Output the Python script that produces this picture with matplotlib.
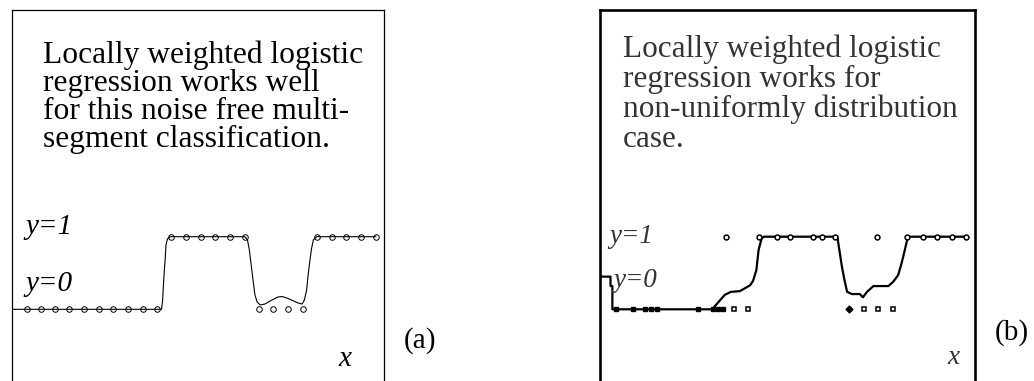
import matplotlib
matplotlib.use("Agg")
import matplotlib.pyplot as plt

plt.rcParams['font.family'] = ['Liberation Serif', 'DejaVu Serif']

W, H = 1034, 381

# (a) noise free multi-segment data, x scaled to [0, 1] across the box
a_x0 = [0.040, 0.077, 0.116, 0.154, 0.194, 0.233, 0.272, 0.312, 0.351, 0.391,
        0.663, 0.702, 0.742, 0.781]
a_x1 = [0.428, 0.468, 0.507, 0.546, 0.586, 0.626,
        0.821, 0.860, 0.899, 0.939, 0.978]
# fitted locally weighted logistic curve
a_fit_x = [0.0, 0.402, 0.405, 0.407, 0.409, 0.412, 0.414, 0.418, 0.425, 0.626,
           0.633, 0.638, 0.642, 0.648, 0.653, 0.659, 0.667, 0.680, 0.696, 0.715,
           0.726, 0.739, 0.755, 0.769, 0.780, 0.786, 0.792, 0.796, 0.801, 0.805,
           0.810, 0.819, 0.978]
a_fit_y = [0.0, 0.0, 0.13, 0.33, 0.50, 0.71, 0.89, 0.97, 1.0, 1.0,
           0.955, 0.82, 0.65, 0.40, 0.20, 0.10, 0.06, 0.073, 0.12, 0.17,
           0.176, 0.155, 0.12, 0.087, 0.073, 0.128, 0.266, 0.47, 0.68, 0.83,
           0.955, 1.0, 1.0]

# (b) non-uniformly distributed data
b_x0_filled = [0.043, 0.087, 0.121, 0.136, 0.151, 0.261, 0.301, 0.314, 0.329]
b_x0_open = [0.358, 0.394, 0.704, 0.742, 0.782]
b_x0_diamond = [0.665]
b_x1 = [0.336, 0.425, 0.471, 0.507, 0.569, 0.591, 0.627, 0.738,
        0.819, 0.862, 0.899, 0.939, 0.977]
b_fit_x = [0.0, 0.028, 0.028, 0.033, 0.033, 0.299, 0.333, 0.349, 0.373, 0.400,
           0.408, 0.417, 0.423, 0.431, 0.437, 0.633, 0.637, 0.645, 0.652, 0.659,
           0.672, 0.693, 0.701, 0.712, 0.729, 0.769, 0.782, 0.795, 0.804, 0.813,
           0.819, 0.823, 0.978]
b_fit_y = [0.45, 0.45, 0.32, 0.32, 0.0, 0.0, 0.20, 0.24, 0.25, 0.33,
           0.39, 0.54, 0.82, 0.975, 1.0, 1.0, 0.86, 0.59, 0.40, 0.24,
           0.21, 0.21, 0.165, 0.24, 0.32, 0.32, 0.38, 0.47, 0.63, 0.82,
           0.955, 1.0, 1.0]

a_lines = ["Locally weighted logistic", "regression works well",
           "for this noise free multi-", "segment classification."]
b_lines = ["Locally weighted logistic", "regression works for",
           "non-uniformly distribution", "case."]

fig = plt.figure(figsize=(W / 100, H / 100), dpi=100)


def px_axes(left, right, top=10, bottom=390):
    ax = fig.add_axes([left / W, (H - bottom) / H, (right - left) / W, (bottom - top) / H])
    ax.set_xlim(0, 1)
    # y=0 sits at pixel 309.3 and y=1 at 236.7
    ax.set_ylim(-(bottom - 309.3) / 72.6, 1 + (236.7 - top) / 72.6)
    ax.set_xticks([])
    ax.set_yticks([])
    return ax


def label(x, y, s, **kw):
    fig.text(x / W, 1 - y / H, s, va='baseline', **kw)


ax_a = px_axes(12, 384)
for sp in ax_a.spines.values():
    sp.set_linewidth(0.9)
ax_a.plot(a_fit_x, a_fit_y, color='black', lw=0.8)
ax_a.plot(a_x0, [0] * len(a_x0), 'o', ms=4, mfc='none', mec='black', mew=0.7)
ax_a.plot(a_x1, [1] * len(a_x1), 'o', ms=4, mfc='none', mec='black', mew=0.7)

for i, s in enumerate(a_lines):
    label(43, 63 + 28 * i, s, fontsize=22.7)
label(25, 234, "y=1", fontsize=21, style='italic')
label(25, 291, "y=0", fontsize=21, style='italic')
label(338, 366, "x", fontsize=21, style='italic')
label(404, 348, "(a)", fontsize=21)

ax_b = px_axes(600, 975)
for sp in ax_b.spines.values():
    sp.set_linewidth(1.9)
ax_b.plot(b_fit_x, b_fit_y, color='black', lw=1.6)
ax_b.plot(b_x0_filled, [0] * len(b_x0_filled), 's', ms=3.5, color='black')
ax_b.plot(b_x0_diamond, [0] * len(b_x0_diamond), 'D', ms=3.5, color='black')
ax_b.plot(b_x0_open, [0] * len(b_x0_open), 's', ms=3.5, mfc='white', mec='black', mew=1.1)
ax_b.plot(b_x1, [1] * len(b_x1), 'o', ms=3.5, mfc='white', mec='black', mew=1.1)

grey = '#333333'
for i, s in enumerate(b_lines):
    label(623, 57 + 30 * i, s, fontsize=22.5, color=grey)
label(609, 243, "y=1", fontsize=19.5, style='italic', color=grey)
label(613, 287, "y=0", fontsize=19.5, style='italic', color=grey)
label(947, 364, "x", fontsize=19.5, style='italic', color=grey)
label(995, 340, "(b)", fontsize=21)

fig.savefig("out.png", dpi=100)
